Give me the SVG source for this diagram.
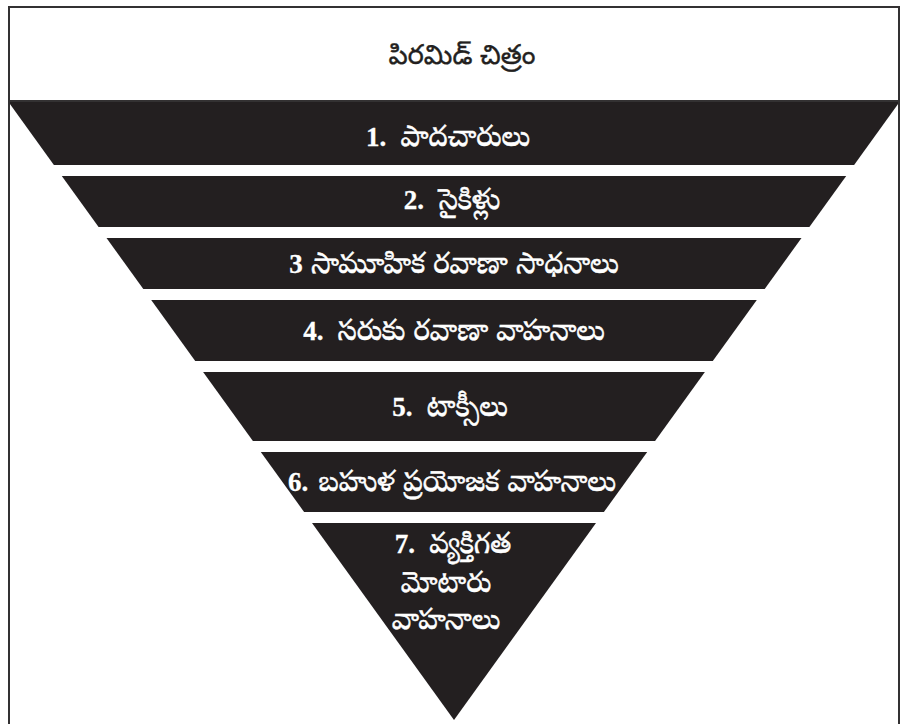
<svg xmlns="http://www.w3.org/2000/svg" width="908" height="724" viewBox="0 0 908 724">
<style>
.band{fill:#231f20}
.t{font-family:"Noto Serif Telugu","Noto Sans Telugu","Noto Sans","DejaVu Sans",sans-serif;font-size:29px;fill:#ffffff;stroke:#ffffff;stroke-width:0.5;text-anchor:middle}
.n{font-family:"Liberation Serif",serif;font-weight:bold;font-size:27px;stroke-width:0.3}
.title{font-family:"Noto Sans Telugu","Noto Serif Telugu","Noto Sans",sans-serif;font-size:27px;fill:#231f20;stroke:#231f20;stroke-width:0.4;text-anchor:middle}
</style>
<rect x="0" y="0" width="908" height="724" fill="#ffffff"/>
<g id="title">
<text class="title" x="462" y="64">పిరమిడ్ చిత్రం</text>
</g>
<g id="band1">
<polygon class="band" points="8.5,102 899.5,102 854.1,165 53.9,165"/>
<text class="t" x="448" y="146"><tspan class="n">1.</tspan><tspan dx="6"> పాదచారులు</tspan></text>
</g>
<g id="band2">
<polygon class="band" points="61.8,176 846.2,176 809.4,227 98.6,227"/>
<text class="t" x="452" y="209"><tspan class="n">2.</tspan><tspan dx="6"> సైకిళ్లు</tspan></text>
</g>
<g id="band3">
<polygon class="band" points="106.5,238 801.5,238 764.7,289 143.3,289"/>
<text class="t" x="454" y="273"><tspan class="n">3</tspan> సామూహిక రవాణా సాధనాలు</text>
</g>
<g id="band4">
<polygon class="band" points="151.2,300 756.8,300 712.8,361 195.2,361"/>
<text class="t" x="454" y="340"><tspan class="n">4.</tspan><tspan dx="6"> సరుకు రవాణా వాహనాలు</tspan></text>
</g>
<g id="band5">
<polygon class="band" points="203.1,372 704.9,372 655.1,441 252.9,441"/>
<text class="t" x="450" y="416"><tspan class="n">5.</tspan><tspan dx="6"> టాక్సీలు</tspan></text>
</g>
<g id="band6">
<polygon class="band" points="260.8,452 647.2,452 603.9,512 304.1,512"/>
<text class="t" x="452" y="491"><tspan class="n">6.</tspan><tspan dx="2"> బహుళ ప్రయోజక వాహనాలు</tspan></text>
</g>
<g id="band7">
<polygon class="band" points="312,523 596,523 454,720"/>
<text class="t" x="453" y="553"><tspan class="n">7.</tspan><tspan dx="6"> వ్యక్తిగత</tspan></text>
<text class="t" x="446" y="592">మోటారు</text>
<text class="t" x="446" y="629">వాహనాలు</text>
</g>
<g id="frame">
<path d="M9,724 V7 H899 V724" fill="none" stroke="#333132" stroke-width="2"/>
<line x1="9" y1="101" x2="899" y2="101" stroke="#333132" stroke-width="2"/>
</g>
</svg>
